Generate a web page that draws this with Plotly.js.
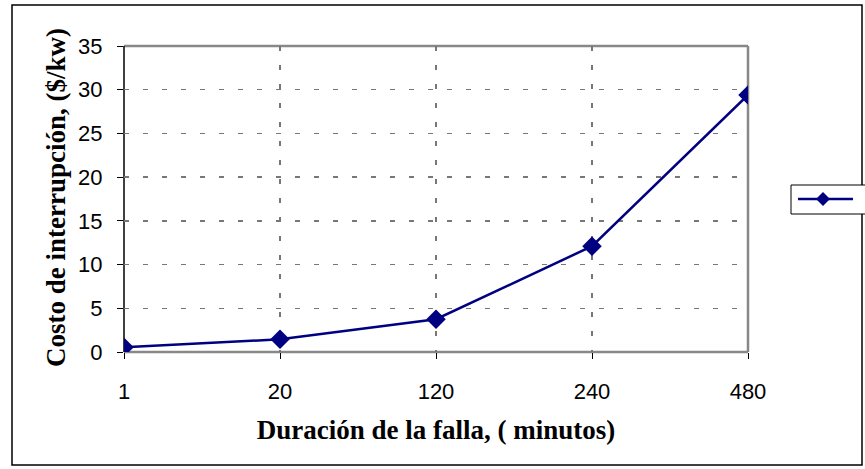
<!DOCTYPE html>
<html><head><meta charset="utf-8">
<script src="https://cdn.plot.ly/plotly-3.0.1.min.js"></script>
<style>body{margin:0;background:#fff}#c{width:865px;height:469px}</style>
</head><body><div id="c"></div>
<script>
const categories = ["1", "20", "120", "240", "480"];
const costValues = [0.55, 1.45, 3.75, 12.1, 29.4];
const yTicks = [0, 5, 10, 15, 20, 25, 30, 35];
const xTitle = 'Duración de la falla, ( minutos)';
const yTitle = 'Costo de interrupción, ($/kw)';

const L = 124, R = 748, T = 46, B = 352;
const W = R - L, H = B - T;
const px = v => (v - L) / W;
const py = v => (B - v) / H;

const navy = '#000080';
const trace = {
  x: categories, y: costValues, type: 'scatter', mode: 'lines+markers',
  showlegend: false,
  line: {color: navy, width: 2.5},
  marker: {symbol: 'diamond', size: 15, color: navy}
};

const titleFont = {family: 'Liberation Serif, Times New Roman', size: 27, color: '#000', weight: 'bold'};
// legend drawn as shapes (box, line, diamond)
const lx = 823, ly = 199, d = 7;
const layout = {
  width: 865, height: 469,
  margin: {l: L, r: 865 - R, t: T, b: 469 - B},
  paper_bgcolor: '#fff', plot_bgcolor: '#fff',
  font: {family: 'Liberation Sans, Arial', color: '#000'},
  xaxis: {
    type: 'category', range: [0, 4], showgrid: true, gridcolor: '#777', griddash: '5px,14px', gridwidth: 1.3,
    showline: false, zeroline: false, ticks: 'outside', ticklen: 6, tickcolor: '#000',
    tickfont: {size: 22, family: 'Liberation Sans, Arial', color: '#000'}, ticklabelstandoff: 14,
    title: {text: xTitle, font: titleFont, standoff: 16}
  },
  yaxis: {
    range: [0, 35], tickvals: yTicks, ticktext: yTicks.map(String), showgrid: true, gridcolor: '#777', griddash: '5px,14px', gridwidth: 1.3,
    showline: false, zeroline: false, ticks: 'outside', ticklen: 6, tickcolor: '#000',
    tickfont: {size: 22, family: 'Liberation Sans, Arial', color: '#000'}, ticklabelstandoff: 10
  },
  annotations: [
    {text: yTitle, xref: 'paper', yref: 'paper', x: px(56), y: py(198), xanchor: 'center', yanchor: 'middle',
      textangle: -90, showarrow: false, font: titleFont}
  ],
  showlegend: false,
  shapes: [
    {type: 'rect', xref: 'paper', yref: 'paper', x0: px(12), x1: px(862), y0: py(465), y1: py(5), line: {color: '#000', width: 1.5}, layer: 'below'},
    {type: 'line', xref: 'paper', yref: 'paper', x0: 0, x1: 1, y0: 1, y1: 1, line: {color: '#888', width: 2.5}, layer: 'below'},
    {type: 'line', xref: 'paper', yref: 'paper', x0: 1, x1: 1, y0: 0, y1: 1, line: {color: '#888', width: 2.5}, layer: 'below'},
    {type: 'line', xref: 'paper', yref: 'paper', x0: 0, x1: 1, y0: 0, y1: 0, line: {color: '#888', width: 2.5}, layer: 'below'},
    {type: 'line', xref: 'paper', yref: 'paper', x0: 0, x1: 0, y0: 0, y1: 1, line: {color: '#000', width: 1.5}, layer: 'below'},
    {type: 'rect', xref: 'paper', yref: 'paper', x0: px(791), x1: px(875), y0: py(214), y1: py(185), line: {color: '#000', width: 1}, fillcolor: '#fff'},
    {type: 'line', xref: 'paper', yref: 'paper', x0: px(798), x1: px(853), y0: py(ly), y1: py(ly), line: {color: navy, width: 2.5}},
    {type: 'path', xref: 'paper', yref: 'paper',
      path: `M ${px(lx - d)} ${py(ly)} L ${px(lx)} ${py(ly - d)} L ${px(lx + d)} ${py(ly)} L ${px(lx)} ${py(ly + d)} Z`,
      fillcolor: navy, line: {color: navy, width: 0}}
  ]
};
Plotly.newPlot('c', [trace], layout, {staticPlot: true});
</script></body></html>
